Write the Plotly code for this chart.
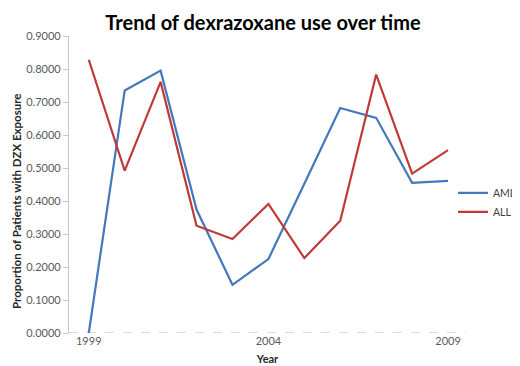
import plotly.graph_objects as go

years = [1999, 2000, 2001, 2002, 2003, 2004, 2005, 2006, 2007, 2008, 2009]
aml = [0.0, 0.735, 0.795, 0.374, 0.146, 0.224, 0.452, 0.682, 0.652, 0.455, 0.461]
all_ = [0.828, 0.492, 0.761, 0.325, 0.285, 0.391, 0.227, 0.340, 0.783, 0.483, 0.554]
ytick_vals = [0.0, 0.1, 0.2, 0.3, 0.4, 0.5, 0.6, 0.7, 0.8, 0.9]
xtick_vals = [1999, 2004, 2009]

FONT = "Lato"
fig = go.Figure()
fig.add_trace(go.Scatter(x=years, y=aml, mode="lines", name="AML",
                         line=dict(color="#4477BE", width=2.2)))
fig.add_trace(go.Scatter(x=years, y=all_, mode="lines", name="ALL",
                         line=dict(color="#BE3A36", width=2.2)))

fig.add_shape(type="line", xref="paper", yref="y", x0=0, x1=1, y0=0, y1=0,
              line=dict(color="#B8B8B8", width=1, dash="dash"), layer="below")

fig.add_annotation(text="<b>Proportion of Patients with DZX Exposure</b>",
                   xref="paper", yref="paper", x=(8 - 61) / 397, y=1 - (194 - 28) / 297,
                   xanchor="center", yanchor="middle", textangle=-90, showarrow=False,
                   font=dict(family=FONT, size=11.5, color="#262626"))

fig.update_layout(
    width=520, height=366,
    margin=dict(l=61, r=62, t=28, b=41, autoexpand=False),
    paper_bgcolor="white", plot_bgcolor="white",
    font=dict(family=FONT, color="#595959", size=11),
    title=dict(text="<b>Trend of dexrazoxane use over time</b>",
               font=dict(family=FONT, size=20, color="black"),
               x=255/520, xanchor="center", y=1 - 15/366, yanchor="middle"),
    showlegend=True,
    legend=dict(x=(445 - 61) / 397, xanchor="left", y=0.44, yanchor="middle",
                font=dict(family=FONT, size=10.5, color="#404040"),
                itemwidth=30, tracegroupgap=2, bgcolor="rgba(0,0,0,0)"),
    xaxis=dict(range=[1998.45, 2009.5], tickvals=xtick_vals,
               ticktext=[str(v) for v in xtick_vals], automargin=False,
               showgrid=False, zeroline=False, showline=False, ticks="",
               tickfont=dict(size=11, color="#595959"),
               title=dict(text="<b>Year</b>", font=dict(size=11, color="#262626"), standoff=9)),
    yaxis=dict(range=[0, 0.9], tickvals=ytick_vals, tickformat=".4f", automargin=False,
               showgrid=False, zeroline=False, showline=True,
               linecolor="#C8C8C8", linewidth=1.2,
               ticks="outside", ticklen=5, tickcolor="#C8C8C8",
               tickfont=dict(size=11, color="#595959")),
)

fig.write_html("out.html")
